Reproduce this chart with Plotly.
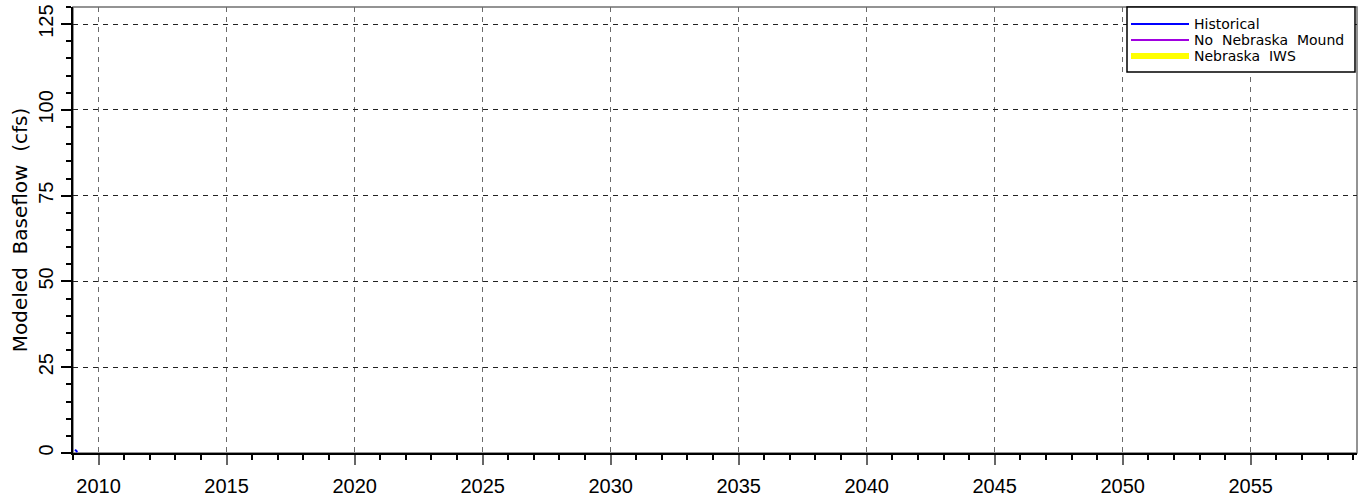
import plotly.graph_objects as go

# Modeled baseflow series (year, cfs)
hist_years = [2009.08, 2009.17]
hist_flow = [1.0, 0.3]
no_mound_years = []
no_mound_flow = []
iws_years = []
iws_flow = []

legend_names = ["Historical", "No  Nebraska  Mound", "Nebraska  IWS"]
legend_colors = ["#0000ff", "#a000e0", "#ffff00"]
legend_widths = [2, 2, 6]

W, H = 1361, 502
ML, MR, MT, MB = 73, 4, 7, 49
PW, PH = W - ML - MR, H - MT - MB

FONT = "DejaVu Sans"
TICK_FONT = "Liberation Sans"

fig = go.Figure()
fig.add_trace(go.Scatter(x=iws_years, y=iws_flow, mode="lines", name=legend_names[2],
                         line=dict(color=legend_colors[2], width=6)))
fig.add_trace(go.Scatter(x=no_mound_years, y=no_mound_flow, mode="lines", name=legend_names[1],
                         line=dict(color=legend_colors[1], width=2)))
fig.add_trace(go.Scatter(x=hist_years, y=hist_flow, mode="lines", name=legend_names[0],
                         line=dict(color=legend_colors[0], width=2)))

def px_x(p):
    return (p - ML) / PW

def px_y(p):
    return 1 - (p - MT) / PH

# frame on top / right
fig.add_shape(type="rect", xref="paper", yref="paper", x0=0, x1=1, y0=0, y1=1,
              line=dict(color="#707070", width=1.5), layer="below")

# legend box
shapes = [dict(type="rect", xref="paper", yref="paper",
               x0=px_x(1127), x1=px_x(1355), y0=px_y(72), y1=px_y(7),
               line=dict(color="black", width=1.5), fillcolor="white", layer="above")]
rows = [24, 40, 56]
for name, col, lw, ry in zip(legend_names, legend_colors, legend_widths, rows):
    shapes.append(dict(type="line", xref="paper", yref="paper",
                       x0=px_x(1131), x1=px_x(1189), y0=px_y(ry), y1=px_y(ry),
                       line=dict(color=col, width=lw), layer="above"))
    fig.add_annotation(xref="paper", yref="paper", x=px_x(1192), y=px_y(ry),
                       text=name, showarrow=False, xanchor="left", yanchor="middle",
                       font=dict(family=FONT, size=14, color="black"))
for s in shapes:
    fig.add_shape(**s)

fig.update_layout(
    width=W, height=H,
    margin=dict(l=ML, r=MR, t=MT, b=MB),
    paper_bgcolor="white", plot_bgcolor="white",
    showlegend=False,
    font=dict(family=FONT, color="black"),
)
fig.update_xaxes(
    range=[2009, 2059.15], tickmode="linear", tick0=2010, dtick=5,
    showgrid=True, gridcolor="#6a6a6a", griddash="5px,5px", gridwidth=1.2,
    showline=True, linecolor="black", linewidth=1.5,
    ticks="outside", ticklen=10, tickcolor="#666666", tickwidth=1.5,
    minor=dict(dtick=1, tick0=2009, ticks="outside", ticklen=5, tickcolor="black", showgrid=False),
    tickfont=dict(family=TICK_FONT, size=20), ticklabelstandoff=4, zeroline=False,
)
fig.update_yaxes(
    range=[0, 130], tickmode="linear", tick0=0, dtick=25,
    showgrid=True, gridcolor="#222222", griddash="5px,5px", gridwidth=1,
    showline=True, linecolor="black", linewidth=1.5,
    ticks="outside", ticklen=10, tickcolor="black", tickwidth=1.5,
    minor=dict(dtick=5, ticks="outside", ticklen=5, tickcolor="black", showgrid=False),
    tickangle=-90, tickfont=dict(family=TICK_FONT, size=20), zeroline=False,
    title=dict(text="Modeled  Baseflow  (cfs)", font=dict(family=FONT, size=20), standoff=2),
)

fig.write_html("out.html")
